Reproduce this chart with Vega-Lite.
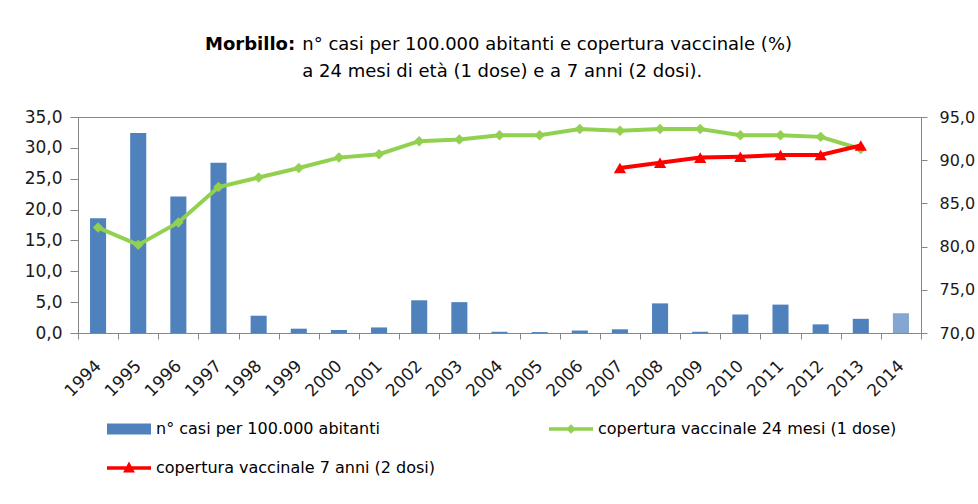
{
  "$schema": "https://vega.github.io/schema/vega-lite/v6.json",
  "width": 843,
  "height": 216,
  "autosize": {"type": "none"},
  "padding": {"left": 78, "top": 117, "right": 57, "bottom": 171},
  "background": "white",
  "title": {
    "text": "Morbillo:",
    "subtitle": ["\u200b\u00a0\u00a0\u00a0\u00a0\u00a0\u00a0\u00a0\u00a0\u00a0\u00a0\u00a0\u00a0\u00a0\u00a0\u00a0\u00a0\u00a0n° casi per 100.000 abitanti e copertura vaccinale (%)", "\u200b\u00a0\u00a0\u00a0\u00a0\u00a0\u00a0\u00a0\u00a0\u00a0\u00a0\u00a0\u00a0\u00a0\u00a0\u00a0\u00a0\u00a0a 24 mesi di età (1 dose) e a 7 anni (2 dosi)."],
    "anchor": "start",
    "frame": "group",
    "dx": 127,
    "offset": 27,
    "font": "DejaVu Sans",
    "fontSize": 18,
    "fontWeight": "bold",
    "color": "#000000",
    "subtitleFont": "DejaVu Sans",
    "subtitleFontSize": 18,
    "subtitleFontWeight": "normal",
    "subtitleColor": "#000000",
    "subtitlePadding": -18,
    "subtitleLineHeight": 27
  },
  "data": {
    "values": [
      {"anno": "1994", "serie": "n° casi per 100.000 abitanti", "valore": 18.6},
      {"anno": "1995", "serie": "n° casi per 100.000 abitanti", "valore": 32.4},
      {"anno": "1996", "serie": "n° casi per 100.000 abitanti", "valore": 22.1},
      {"anno": "1997", "serie": "n° casi per 100.000 abitanti", "valore": 27.6},
      {"anno": "1998", "serie": "n° casi per 100.000 abitanti", "valore": 2.8},
      {"anno": "1999", "serie": "n° casi per 100.000 abitanti", "valore": 0.7},
      {"anno": "2000", "serie": "n° casi per 100.000 abitanti", "valore": 0.5},
      {"anno": "2001", "serie": "n° casi per 100.000 abitanti", "valore": 0.9},
      {"anno": "2002", "serie": "n° casi per 100.000 abitanti", "valore": 5.3},
      {"anno": "2003", "serie": "n° casi per 100.000 abitanti", "valore": 5.0},
      {"anno": "2004", "serie": "n° casi per 100.000 abitanti", "valore": 0.2},
      {"anno": "2005", "serie": "n° casi per 100.000 abitanti", "valore": 0.15},
      {"anno": "2006", "serie": "n° casi per 100.000 abitanti", "valore": 0.4},
      {"anno": "2007", "serie": "n° casi per 100.000 abitanti", "valore": 0.6},
      {"anno": "2008", "serie": "n° casi per 100.000 abitanti", "valore": 4.8},
      {"anno": "2009", "serie": "n° casi per 100.000 abitanti", "valore": 0.2},
      {"anno": "2010", "serie": "n° casi per 100.000 abitanti", "valore": 3.0},
      {"anno": "2011", "serie": "n° casi per 100.000 abitanti", "valore": 4.6},
      {"anno": "2012", "serie": "n° casi per 100.000 abitanti", "valore": 1.4},
      {"anno": "2013", "serie": "n° casi per 100.000 abitanti", "valore": 2.3},
      {"anno": "2014", "serie": "n° casi per 100.000 abitanti", "valore": 3.2},
      {"anno": "1994", "serie": "copertura vaccinale 24 mesi (1 dose)", "valore": 82.2},
      {"anno": "1995", "serie": "copertura vaccinale 24 mesi (1 dose)", "valore": 80.2},
      {"anno": "1996", "serie": "copertura vaccinale 24 mesi (1 dose)", "valore": 82.8},
      {"anno": "1997", "serie": "copertura vaccinale 24 mesi (1 dose)", "valore": 86.9},
      {"anno": "1998", "serie": "copertura vaccinale 24 mesi (1 dose)", "valore": 88.0},
      {"anno": "1999", "serie": "copertura vaccinale 24 mesi (1 dose)", "valore": 89.1},
      {"anno": "2000", "serie": "copertura vaccinale 24 mesi (1 dose)", "valore": 90.3},
      {"anno": "2001", "serie": "copertura vaccinale 24 mesi (1 dose)", "valore": 90.7},
      {"anno": "2002", "serie": "copertura vaccinale 24 mesi (1 dose)", "valore": 92.2},
      {"anno": "2003", "serie": "copertura vaccinale 24 mesi (1 dose)", "valore": 92.4},
      {"anno": "2004", "serie": "copertura vaccinale 24 mesi (1 dose)", "valore": 92.9},
      {"anno": "2005", "serie": "copertura vaccinale 24 mesi (1 dose)", "valore": 92.9},
      {"anno": "2006", "serie": "copertura vaccinale 24 mesi (1 dose)", "valore": 93.6},
      {"anno": "2007", "serie": "copertura vaccinale 24 mesi (1 dose)", "valore": 93.4},
      {"anno": "2008", "serie": "copertura vaccinale 24 mesi (1 dose)", "valore": 93.6},
      {"anno": "2009", "serie": "copertura vaccinale 24 mesi (1 dose)", "valore": 93.6},
      {"anno": "2010", "serie": "copertura vaccinale 24 mesi (1 dose)", "valore": 92.9},
      {"anno": "2011", "serie": "copertura vaccinale 24 mesi (1 dose)", "valore": 92.9},
      {"anno": "2012", "serie": "copertura vaccinale 24 mesi (1 dose)", "valore": 92.7},
      {"anno": "2013", "serie": "copertura vaccinale 24 mesi (1 dose)", "valore": 91.3},
      {"anno": "2007", "serie": "copertura vaccinale 7 anni (2 dosi)", "valore": 89.1},
      {"anno": "2008", "serie": "copertura vaccinale 7 anni (2 dosi)", "valore": 89.7},
      {"anno": "2009", "serie": "copertura vaccinale 7 anni (2 dosi)", "valore": 90.3},
      {"anno": "2010", "serie": "copertura vaccinale 7 anni (2 dosi)", "valore": 90.4},
      {"anno": "2011", "serie": "copertura vaccinale 7 anni (2 dosi)", "valore": 90.6},
      {"anno": "2012", "serie": "copertura vaccinale 7 anni (2 dosi)", "valore": 90.6},
      {"anno": "2013", "serie": "copertura vaccinale 7 anni (2 dosi)", "valore": 91.7}
    ]
  },
  "encoding": {
    "x": {
      "field": "anno",
      "type": "ordinal",
      "scale": {"paddingInner": 0, "paddingOuter": 0},
      "axis": {
        "title": null,
        "labelAngle": -45,
        "labelAlign": "right",
        "labelBaseline": "middle",
        "labelPadding": 24,
        "tickBand": "extent",
        "tickSize": 6,
        "labelFontSize": 17
      }
    },
    "color": {
      "field": "serie",
      "type": "nominal",
      "scale": {
        "domain": ["n° casi per 100.000 abitanti", "copertura vaccinale 7 anni (2 dosi)", "copertura vaccinale 24 mesi (1 dose)"],
        "range": ["#4F81BD", "#FF0000", "#92D050"]
      },
      "legend": {
        "title": null,
        "orient": "none",
        "legendX": 29,
        "legendY": 290,
        "columns": 2,
        "columnPadding": 113,
        "rowPadding": 9,
        "padding": 0,
        "symbolSize": 1936,
        "symbolOpacity": 1,
        "symbolStrokeWidth": 0,
        "labelFont": "DejaVu Sans",
        "labelFontSize": 16,
        "labelColor": "#000000",
        "labelOffset": 5,
        "labelLimit": 500
      }
    }
  },
  "layer": [
    {
      "transform": [{"filter": "datum.serie === 'n° casi per 100.000 abitanti'"}],
      "mark": {"type": "bar", "width": {"band": 0.4}},
      "encoding": {
        "y": {
          "field": "valore",
          "type": "quantitative",
          "scale": {"domain": [0, 35], "nice": false, "zero": true},
          "axis": {
            "orient": "left",
            "title": null,
            "values": [0, 5, 10, 15, 20, 25, 30, 35],
            "labelExpr": "replace(format(datum.value, '.1f'), '.', ',')",
            "tickSize": 8,
            "labelPadding": 8,
            "labelFontSize": 17
          }
        },
        "opacity": {"condition": {"test": "datum.anno === '2014'", "value": 0.7}, "value": 1}
      }
    },
    {
      "encoding": {
        "y": {
          "field": "valore",
          "type": "quantitative",
          "scale": {"domain": [70, 95], "nice": false, "zero": false},
          "axis": {
            "orient": "right",
            "title": null,
            "values": [70, 75, 80, 85, 90, 95],
            "labelExpr": "replace(format(datum.value, '.1f'), '.', ',')",
            "tickSize": 6,
            "labelPadding": 12,
            "labelFontSize": 16
          }
        }
      },
      "layer": [
        {
          "transform": [{"filter": "datum.serie === 'copertura vaccinale 24 mesi (1 dose)'"}],
          "mark": {"type": "line", "strokeWidth": 4}
        },
        {
          "transform": [{"filter": "datum.serie === 'copertura vaccinale 24 mesi (1 dose)'"}],
          "mark": {"type": "point", "shape": "diamond", "filled": true, "size": 110, "opacity": 1}
        },
        {
          "transform": [{"filter": "datum.serie === 'copertura vaccinale 7 anni (2 dosi)'"}],
          "mark": {"type": "line", "strokeWidth": 4}
        },
        {
          "transform": [{"filter": "datum.serie === 'copertura vaccinale 7 anni (2 dosi)'"}],
          "mark": {"type": "point", "shape": "triangle-up", "filled": true, "size": 150, "opacity": 1}
        },
        {
          "transform": [{"filter": "datum.serie !== 'n° casi per 100.000 abitanti'"}],
          "mark": {"type": "point", "filled": true, "opacity": 0, "size": 1},
          "encoding": {
            "shape": {
              "field": "serie",
              "type": "nominal",
              "scale": {
                "domain": ["n° casi per 100.000 abitanti", "copertura vaccinale 7 anni (2 dosi)", "copertura vaccinale 24 mesi (1 dose)"],
                "range": ["M-1,-0.25H1V0.25H-1Z", "M-1,-0.08H1V0.08H-1ZM0,-0.3L0.27,0.2L-0.27,0.2Z", "M-1,-0.08H1V0.08H-1ZM0,-0.22L0.22,0L0,0.22L-0.22,0Z"]
              },
              "legend": {
                "title": null,
                "orient": "none",
                "legendX": 29,
                "legendY": 290,
                "columns": 2,
                "columnPadding": 113,
                "rowPadding": 9,
                "padding": 0,
                "symbolSize": 1936,
                "symbolOpacity": 1,
                "symbolStrokeWidth": 0,
                "labelFont": "DejaVu Sans",
                "labelFontSize": 16,
                "labelColor": "#000000",
                "labelOffset": 5,
                "labelLimit": 500
              }
            }
          }
        }
      ]
    }
  ],
  "resolve": {"scale": {"y": "independent"}},
  "config": {
    "view": {"stroke": "#868686", "strokeWidth": 1},
    "axis": {
      "grid": false,
      "domainColor": "#868686",
      "tickColor": "#868686",
      "labelFont": "DejaVu Sans",
      "labelColor": "#1a1a1a"
    }
  }
}
